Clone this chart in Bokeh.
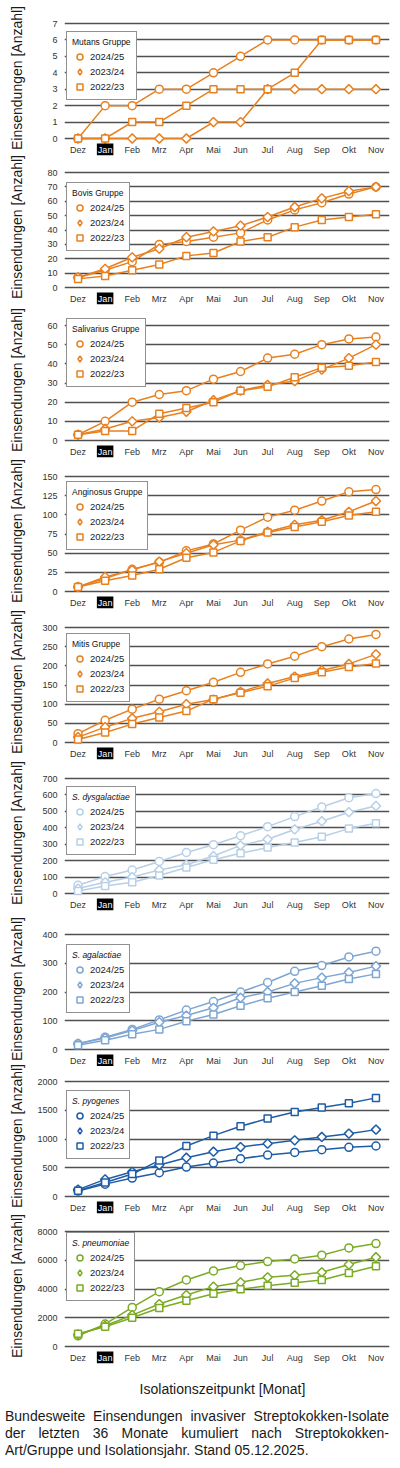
import math
from bokeh.plotting import figure
from bokeh.models import Range1d, FixedTicker, Legend, LegendItem, Label, Div
from bokeh.layouts import column, row
from bokeh.core.properties import value
from bokeh.embed import file_html
from bokeh.resources import INLINE

months = ["Dez", "Jan", "Feb", "Mrz", "Apr", "Mai", "Jun", "Jul", "Aug", "Sep", "Okt", "Nov"]
highlight_month = "Jan"
seasons = ["2024/25", "2023/24", "2022/23"]

mutans_2425 = [0, 2, 2, 3, 3, 4, 5, 6, 6, 6, 6, 6]
mutans_2324 = [0, 0, 0, 0, 0, 1, 1, 3, 3, 3, 3, 3]
mutans_2223 = [0, 0, 1, 1, 2, 3, 3, 3, 4, 6, 6, 6]

bovis_2425 = [7, 12, 18, 30, 32, 35, 38, 47, 54, 59, 65, 70]
bovis_2324 = [7, 13, 21, 27, 35, 39, 43, 49, 56, 62, 67, 70]
bovis_2223 = [6, 8, 12, 16, 22, 24, 32, 35, 42, 47, 49, 51]

saliv_2425 = [3, 10, 20, 24, 26, 32, 36, 43, 45, 50, 53, 54]
saliv_2324 = [3, 6, 10, 12, 15, 21, 26, 29, 31, 37, 43, 50]
saliv_2223 = [3, 5, 5, 14, 17, 20, 26, 28, 33, 38, 39, 41]

angin_2425 = [6, 17, 29, 38, 53, 62, 80, 97, 106, 118, 130, 133]
angin_2324 = [6, 19, 28, 39, 50, 61, 67, 78, 87, 93, 104, 118]
angin_2223 = [6, 14, 21, 29, 44, 51, 66, 77, 84, 91, 99, 104]

mitis_2425 = [23, 58, 87, 113, 135, 157, 183, 205, 225, 250, 270, 282]
mitis_2324 = [14, 40, 63, 80, 100, 112, 132, 154, 172, 188, 205, 230]
mitis_2223 = [8, 26, 48, 65, 82, 113, 130, 147, 168, 183, 197, 206]

dysg_2425 = [50, 103, 143, 195, 250, 297, 352, 407, 468, 527, 583, 608]
dysg_2324 = [30, 68, 100, 143, 175, 228, 293, 330, 390, 440, 495, 533]
dysg_2223 = [15, 45, 68, 110, 158, 205, 245, 280, 310, 345, 395, 428]

agal_2425 = [20, 43, 70, 103, 137, 167, 200, 233, 272, 292, 322, 342]
agal_2324 = [20, 40, 66, 95, 118, 145, 180, 200, 230, 250, 268, 290]
agal_2223 = [15, 32, 53, 70, 98, 122, 152, 178, 200, 222, 245, 263]

pyog_2425 = [95, 215, 320, 413, 512, 581, 657, 721, 767, 814, 855, 878]
pyog_2324 = [120, 297, 430, 547, 674, 779, 860, 919, 977, 1035, 1093, 1163]
pyog_2223 = [99, 244, 390, 628, 878, 1058, 1221, 1355, 1471, 1547, 1622, 1715]

pneu_2425 = [744, 1558, 2720, 3814, 4628, 5256, 5628, 5907, 6093, 6349, 6860, 7163]
pneu_2324 = [837, 1442, 2186, 2953, 3581, 4163, 4465, 4814, 4953, 5163, 5698, 6209]
pneu_2223 = [884, 1372, 2000, 2674, 3186, 3674, 3977, 4233, 4442, 4628, 5116, 5581]

titles = ["Mutans Gruppe", "Bovis Gruppe", "Salivarius Gruppe", "Anginosus Gruppe",
          "Mitis Gruppe", "S. dysgalactiae", "S. agalactiae", "S. pyogenes", "S. pneumoniae"]
y_max = [7, 80, 60, 150, 300, 700, 400, 2000, 8000]
y_step = [1, 10, 10, 25, 50, 100, 100, 500, 2000]
series = [
    [mutans_2425, mutans_2324, mutans_2223],
    [bovis_2425, bovis_2324, bovis_2223],
    [saliv_2425, saliv_2324, saliv_2223],
    [angin_2425, angin_2324, angin_2223],
    [mitis_2425, mitis_2324, mitis_2223],
    [dysg_2425, dysg_2324, dysg_2223],
    [agal_2425, agal_2324, agal_2223],
    [pyog_2425, pyog_2324, pyog_2223],
    [pneu_2425, pneu_2324, pneu_2223],
]
y_title = "Einsendungen [Anzahl]"
x_title = "Isolationszeitpunkt [Monat]"
caption_text = ("Bundesweite Einsendungen invasiver Streptokokken-Isolate der letzten 36 Monate "
                "kumuliert nach Streptokokken-Art/Gruppe und Isolationsjahr. Stand 05.12.2025.")

ORANGE = "#E8801F"
colors = [ORANGE, ORANGE, ORANGE, ORANGE, ORANGE, "#B7CFE7", "#7EA6D2", "#1E5DA5", "#7AAB23"]
italic = [False] * 5 + [True] * 4

# ---- layout (pixels) ----
MARGIN = 8
fig_heights = [149, 153, 151, 151, 151, 156, 147, 150, 149]
legend_top = [17, 19, 2, 14, 15, 17, 19, 18, 10]   # legend top below frame top
FONT = "Liberation Sans"
TOP = 5
PLOT_H = 115       # between the 0 line and the max gridline
PAD_TOP = 10
PAD_BOTTOM = 17
FRAME_H = PLOT_H + PAD_TOP + PAD_BOTTOM
LEG_H = 70
LEFT_W = 34

x_idx = list(range(len(months)))
x_text = ["" if m == highlight_month else m for m in months]
plot_markers = [("circle", 8, 0.0), ("square", 6.5, math.pi / 4), ("square", 7, 0.0)]
legend_markers = ["circle", "diamond", "square"]

mains = []
label_centers = []
cum = 0
for i in range(9):
    ymax = y_max[i]
    upp = ymax / PLOT_H
    top = TOP + (MARGIN if i == 0 else 0)
    h = fig_heights[i] + (MARGIN if i == 0 else 0)
    label_centers.append(cum + top + PAD_TOP + 54.5)
    cum += h
    p = figure(width=28 + 327 + 3, height=h, output_backend="svg", toolbar_location=None,
               x_axis_location=None,
               x_range=Range1d(-0.5, len(months) - 0.5),
               y_range=Range1d(-PAD_BOTTOM * upp, ymax + PAD_TOP * upp),
               min_border_left=28, min_border_right=3, min_border_top=top,
               min_border_bottom=h - top - FRAME_H)
    p.outline_line_color = None
    p.background_fill_color = "white"
    p.border_fill_color = "white"
    p.xgrid.visible = False
    ticks = list(range(0, ymax + 1, y_step[i]))
    p.ygrid.ticker = FixedTicker(ticks=ticks)
    p.ygrid.grid_line_color = "#505050"
    p.ygrid.grid_line_width = 1.5

    p.yaxis.ticker = FixedTicker(ticks=ticks)
    p.yaxis.axis_line_color = None
    p.yaxis.major_tick_line_color = None
    p.yaxis.minor_tick_line_color = None
    p.yaxis.major_tick_out = 0
    p.yaxis.major_tick_in = 0
    p.yaxis.major_label_standoff = 7
    p.yaxis.major_label_text_font = FONT
    p.yaxis.major_label_text_font_size = "9px"
    p.yaxis.major_label_text_color = "#333333"

    # month labels under the zero line
    p.text(x=x_idx, y=[0] * len(months), text=x_text, y_offset=6, text_align="center",
           text_baseline="top", text_font=value(FONT), text_font_size="9px",
           text_color="#333333")
    jan = Label(x=months.index(highlight_month), y=PAD_BOTTOM - 5, x_units="data",
                y_units="screen", text=highlight_month, text_align="center",
                text_baseline="top", text_font=FONT, text_font_size="9px",
                text_color="white", background_fill_color="black", padding=1)
    p.add_layout(jan)

    col = colors[i]
    items = []
    for s in range(3):
        vals = series[i][s]
        p.line(x_idx, vals, line_color=col, line_width=1.5)
        mk, size, ang = plot_markers[s]
        p.scatter(x_idx, vals, marker=mk, size=size, angle=ang, line_color=col,
                  line_width=1.5, fill_color="white")
        # legend-only marker (same data, not drawn in the plot)
        lr = p.scatter(x_idx, vals, marker=legend_markers[s], size=7, line_color=col,
                       line_width=1.5, fill_color="white", visible=False)
        items.append(LegendItem(label=seasons[s], renderers=[lr]))

    leg = Legend(items=items, title=titles[i],
                 location=(2, FRAME_H - legend_top[i] - LEG_H))
    leg.click_policy = "none"
    leg.inactive_fill_alpha = 0.0
    leg.title_text_font = FONT
    leg.title_text_font_size = "8.5px"
    leg.title_text_font_style = "italic" if italic[i] else "normal"
    leg.title_text_color = "#111111"
    leg.title_standoff = 2
    leg.label_text_font = FONT
    leg.label_text_font_size = "9.5px"
    leg.label_text_color = "#222222"
    leg.border_line_color = "#222222"
    leg.border_line_width = 1
    leg.background_fill_color = "white"
    leg.background_fill_alpha = 1.0
    leg.padding = 5
    leg.spacing = 0
    leg.margin = 0
    leg.glyph_width = 15
    leg.glyph_height = 15
    leg.label_height = 15
    leg.label_standoff = 3
    p.add_layout(leg)
    mains.append(p)

total_h = cum
lf = figure(width=LEFT_W, height=total_h, output_backend="svg", toolbar_location=None,
            x_axis_location=None, y_axis_location=None,
            x_range=Range1d(0, 1), y_range=Range1d(0, 1),
            min_border_left=0, min_border_right=0, min_border_top=0, min_border_bottom=0)
lf.outline_line_color = None
lf.background_fill_color = "white"
lf.border_fill_color = "white"
lf.xgrid.visible = False
lf.ygrid.visible = False
for c in label_centers:
    lf.add_layout(Label(x=MARGIN + 8.5, y=total_h - c, x_units="screen", y_units="screen",
                        text=y_title, angle=math.pi / 2, text_align="center",
                        text_baseline="middle", text_font=FONT, text_font_size="14px",
                        text_color="#1a1a1a"))

caption = Div(width=392, height=95, text=(
    "<div style=\"font-family:'Liberation Sans',Arial,sans-serif;font-size:14px;color:#1a1a1a;"
    "width:384px;\">"
    "<div style=\"padding-left:54px;padding-right:3px;text-align:center;line-height:17px;margin-top:11px;\">"
    + x_title + "</div>"
    "<div style=\"text-align:justify;line-height:17px;margin-top:10px;\">"
    + caption_text + "</div></div>"))

layout = column(row(lf, column(*mains, spacing=0), spacing=0), caption, spacing=0)
open("out.html", "w").write(file_html(layout, INLINE))
